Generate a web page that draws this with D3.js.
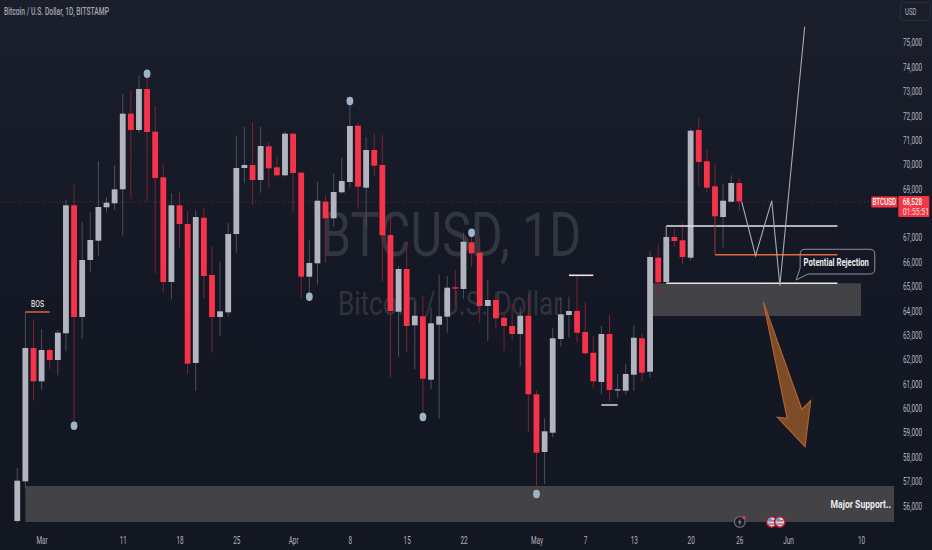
<!DOCTYPE html>
<html><head><meta charset="utf-8">
<script src="https://cdn.jsdelivr.net/npm/d3@7"></script>
<style>html,body{margin:0;padding:0;background:#131722;overflow:hidden}svg{display:block}text{font-family:"Roboto",sans-serif}</style>
</head><body><svg id="c" width="932" height="550"></svg>
<script>
// Daily candles, first one is 27 Feb
const dayOffsets=d3.range(-3,87);
const opens=[55381,57009,62477,61111,62395,61985,63080,68331,63749,66087,66879,68249,68413,68987,72088,71419,73101,71350,69479,65184,68331,67564,61862,67822,65471,63749,63941,67153,69861,69984,69368,70751,69889,69561,71268,69668,65402,65951,68478,67797,68864,69286,71596,69052,70599,69984,67112,63966,65718,63408,63777,61177,63433,63761,64967,64897,66813,66386,64200,64446,63720,63379,63051,63802,60578,58211,59003,62846,63831,63995,63133,62284,61082,63051,60742,60726,61382,62875,61505,66181,65184,67030,66895,66181,71419,70135,69110,67851,68478,69245];
const highs=[57555,63954,63654,63244,62477,63215,68548,69192,67646,68043,70136,68671,69971,72884,73031,73663,73745,72404,70037,68823,68876,68097,68138,68208,66632,66005,67605,71194,71555,71719,71555,70915,70324,71350,71300,69700,66907,69299,68741,69643,70283,72445,71719,71132,71284,71214,67892,65841,66854,64335,64610,64147,65484,65430,65677,67207,67194,67043,65266,64745,63872,64282,64147,64692,60726,59593,63285,64516,64581,65471,64364,62969,63379,63831,61411,61808,63420,63051,66444,66714,67481,67358,67617,71473,71912,70628,70012,69217,69561,69463];
const lows=[55299,56706,60315,60754,61616,61357,62342,59290,62846,65595,66251,68027,68138,67100,68601,71309,68478,65541,64762,64475,66550,61423,60713,64499,62284,62969,63761,66386,69233,68343,68847,69052,69500,69500,68056,64499,64733,65074,65976,67453,68800,69052,68179,67453,69532,65197,61275,62120,62313,61616,59811,60795,59577,63105,64241,64499,65812,63515,62764,63269,62366,62777,61710,59031,56529,56898,58814,62530,62900,62694,62200,60824,60590,60303,60426,60561,60713,61095,61275,64569,65150,66632,65894,66046,69122,68864,67850,66591,68450,68109];
const closes=[57034,62477,61111,62395,61985,63105,68331,63749,66087,66907,68261,68437,68987,72088,71419,73101,71337,69450,65184,68331,67564,61833,67851,65430,63749,63982,67153,69861,69984,69368,70763,69848,69561,71268,69656,65402,65964,68519,67797,68876,69327,71583,69094,70599,69955,67100,63995,65718,63379,63802,61218,63490,63777,64951,64910,66837,66362,64200,64446,63695,63379,63051,63802,60578,58182,59060,62875,63859,63995,63105,62260,61111,63051,60754,60783,61411,62900,61464,66210,65172,67030,66866,66210,71391,70107,69052,67879,68519,69245,68490];
// 68,000 sits behind the price tag in the reference, so it is not listed
const priceTicks=[56000,57000,58000,59000,60000,61000,62000,63000,64000,65000,66000,67000,69000,70000,71000,72000,73000,74000,75000];
const timeTickDays=[0,10,17,24,31,38,45,52,61,67,73,80,86,92,101];
const timeTickLabels=["Mar","11","18","25","Apr","8","15","22","May","7","13","20","26","Jun","10"];
const lastPriceText="68,528", countdownText="01:55:51", symbolText="BTCUSD";
const titleText="Bitcoin / U.S. Dollar, 1D, BITSTAMP";
const pivotDays=[13,4,38,33,47,53,61], pivotPrices=[73729,59290,72609,64581,59647,67207,56488];
const projectionDays=[86.3,88,90,91,94.06], projectionPrices=[68478,66263,68519,65032,75657];
const arrowDays=[88.96,93.7,94.8,94.1,90.7,91.9], arrowPrices=[64364,59962,60315,58428,59634,59593];

const svg=d3.select("#c");
const BG="#131722",RED="#f7334a",GREY="#b2b5be";
const x=d3.scaleLinear().domain([0,101]).range([41.6,861]);
const y=d3.scaleLinear().domain([75000,56000]).range([42.71,505.9]);
const narrow=.64;
const grad=svg.append("defs").append("linearGradient").attr("id","bg").attr("x1",0).attr("x2",0).attr("y1",0).attr("y2",1);
grad.append("stop").attr("offset",0).attr("stop-color","#1b1f2c");
grad.append("stop").attr("offset",.5).attr("stop-color","#141824");
grad.append("stop").attr("offset",1).attr("stop-color","#131722");
svg.append("rect").attr("width",932).attr("height",550).attr("fill","url(#bg)");

function label(px,py,s,size,fill,anchor,weight,sx,op){
  return svg.append("text").attr("transform",`translate(${px},${py}) scale(${sx||narrow},1)`)
   .attr("font-size",size).attr("fill",fill).attr("text-anchor",anchor||"start").attr("font-weight",weight||400)
   .attr("opacity",op==null?1:op).text(s);
}
// watermark
label(451,255.5,"BTCUSD, 1D",62,"#32363f","middle",400,.785);
label(450,315,"Bitcoin / U.S. Dollar",33,"#2f333d","middle",400,.79);

// zones
function zone(d0,d1,p0,p1){svg.append("rect").attr("x",x(d0)).attr("width",x(d1)-x(d0)).attr("y",y(p0)).attr("height",y(p1)-y(p0)).attr("fill","#434347");}
zone(-2,105.07,56816,55340);
zone(75.36,101,65131,63790);

// last price line
svg.append("line").attr("x1",0).attr("x2",871).attr("y1",y(68490)+.5).attr("y2",y(68490)+.5).attr("stroke","#f23645").attr("stroke-opacity",.4).attr("stroke-dasharray","1 2");

// candles
const candles=dayOffsets.map((d,i)=>({d,o:opens[i],h:highs[i],l:lows[i],c:closes[i]}));
const g=svg.append("g");
g.selectAll("line").data(candles).join("line").attr("x1",d=>x(d.d)).attr("x2",d=>x(d.d)).attr("y1",d=>y(d.h)).attr("y2",d=>y(d.l))
 .attr("stroke",d=>d.c<d.o?"#7f2230":"#4c4f59").attr("stroke-width",1);
g.selectAll("rect").data(candles).join("rect").attr("x",d=>x(d.d)-2.9).attr("width",5.8).attr("y",d=>y(Math.max(d.o,d.c)))
 .attr("height",d=>Math.max(1.2,Math.abs(y(d.o)-y(d.c)))).attr("fill",d=>d.c<d.o?RED:GREY);

// pivots
svg.selectAll("ellipse").data(pivotDays).join("ellipse").attr("cx",d=>x(d)).attr("cy",(d,i)=>y(pivotPrices[i])).attr("rx",3.4).attr("ry",4.2).attr("fill","#9fb3c8");

// callout
{const l=x(93.5),r=x(102.7),t=y(66526),b=y(65512),tx=x(93),ty=y(65266),rad=5;
 svg.append("path").attr("d",`M${l+rad},${t}H${r-rad}Q${r},${t} ${r},${t+rad}V${b-rad}Q${r},${b} ${r-rad},${b}H${l+8}L${tx},${ty}L${l},${b-6}V${t+rad}Q${l},${t} ${l+rad},${t}Z`)
  .attr("fill","none").attr("stroke","#8f9198").attr("stroke-width",1);
 label(x(97.95),y(65990)+3.5,"Potential Rejection",10.5,"#ececec","middle",700,.73);}

// structure lines
function seg(d0,d1,p,col,w){svg.append("line").attr("x1",x(d0)).attr("x2",x(d1)).attr("y1",y(p)).attr("y2",y(p)).attr("stroke",col).attr("stroke-width",w||1.4);}
seg(-2,1,63954,"#e8673c");
seg(77,98.1,67481,"#e6e6e6");
seg(77,98.1,65131,"#e6e6e6");
seg(83,98.1,66304,"#e8673c");
seg(65,68,65459,"#e6e6e6",1.6);
seg(69,71,60139,"#e6e6e6",1.4);
svg.append("line").attr("x1",x(77)).attr("x2",x(77)).attr("y1",y(67481)).attr("y2",y(67030)).attr("stroke","#8a8d95");
svg.append("line").attr("x1",x(83)).attr("x2",x(83)).attr("y1",y(67879)).attr("y2",y(66304)).attr("stroke","#a0392f");

// projection path
const lineGen=d3.line().x(d=>x(d[0])).y(d=>y(d[1]));
svg.append("path").attr("d",lineGen(d3.zip(projectionDays,projectionPrices))).attr("fill","none").attr("stroke","#a9abb1").attr("stroke-width",1.1);
// arrow
svg.append("path").attr("d",lineGen(d3.zip(arrowDays,arrowPrices))+"Z").attr("fill","#ff8c2a").attr("fill-opacity",.45).attr("stroke","#b5602f").attr("stroke-width",1.2);

label(37.5,307,"BOS",9.5,"#dcdcdc","middle",500,.72);
label(891,507.5,"Major Support..",10.5,"#ececec","end",700,.82);

// axes
const yAxis=d3.axisRight(y).tickValues(priceTicks).tickSize(0).tickFormat(d3.format(","));
const ya=svg.append("g").attr("transform","translate(903,0)").call(yAxis);
ya.select(".domain").remove();
ya.selectAll("text").attr("x",0).attr("dy",3.2).attr("font-size",10).attr("fill","#b2b5be").attr("font-family","Roboto").attr("transform",`scale(${narrow},1)`);
const xAxis=d3.axisBottom(x).tickValues(timeTickDays).tickSize(0).tickFormat((d,i)=>timeTickLabels[i]);
const xa=svg.append("g").attr("transform","translate(0,534)").call(xAxis);
xa.select(".domain").remove();
xa.selectAll(".tick text").attr("y",0).attr("dy",9.5).attr("font-size",10).attr("fill","#b2b5be").attr("font-family","Roboto").each(function(){
  d3.select(this).attr("transform",`scale(${narrow},1)`);
});

// title & USD
label(4,14.5,titleText,10,"#a5a8b0","start",500,.675);
svg.append("rect").attr("x",900.5).attr("y",2.5).attr("width",30).attr("height",18).attr("rx",3).attr("fill","none").attr("stroke","#2a2e39");
label(905,15,"USD",9.5,"#b2b5be","start",400,narrow);

// price labels
svg.append("rect").attr("x",871.3).attr("y",196.5).attr("width",26).attr("height",11).attr("rx",1).attr("fill","#f23645");
label(884.3,205,symbolText,9.5,"#fff","middle",500,.66);
svg.append("rect").attr("x",898.3).attr("y",196).attr("width",31).attr("height",21).attr("rx",1).attr("fill","#f23645");
label(902.7,204.6,lastPriceText,9.5,"#fff","start",500,.67);
label(902.7,215,countdownText,9,"#fff","start",400,.76,.85);

// event icons
const evY=522;
svg.append("circle").attr("cx",x(86)+.5).attr("cy",evY).attr("r",5.4).attr("fill","#1a1d27").attr("stroke","#666973").attr("stroke-width",1.3);
svg.append("path").attr("transform",`translate(${x(86)+.5},${evY})`).attr("d","M1,-3.5L-1.8,0.6H0L-1,3.5L1.8,-0.6H0Z").attr("fill","#9a9da6");
svg.append("circle").attr("cx",x(86)+4.8).attr("cy",evY-4.4).attr("r",1.6).attr("fill","#f23645");
[90,91].forEach(d=>{const cx=x(d);
 svg.append("circle").attr("cx",cx).attr("cy",evY).attr("r",5.2).attr("fill","#d5d8e2").attr("stroke","#a81e2e").attr("stroke-width",1.6);
 svg.append("rect").attr("x",cx-3.6).attr("y",evY-3.6).attr("width",3.6).attr("height",3.4).attr("fill","#6f8fbf");
 svg.append("rect").attr("x",cx).attr("y",evY-2).attr("width",3.8).attr("height",1.4).attr("fill","#d0505a");
 svg.append("rect").attr("x",cx-3.8).attr("y",evY+1.4).attr("width",7.6).attr("height",1.3).attr("fill","#d0505a");
});
</script></body></html>
